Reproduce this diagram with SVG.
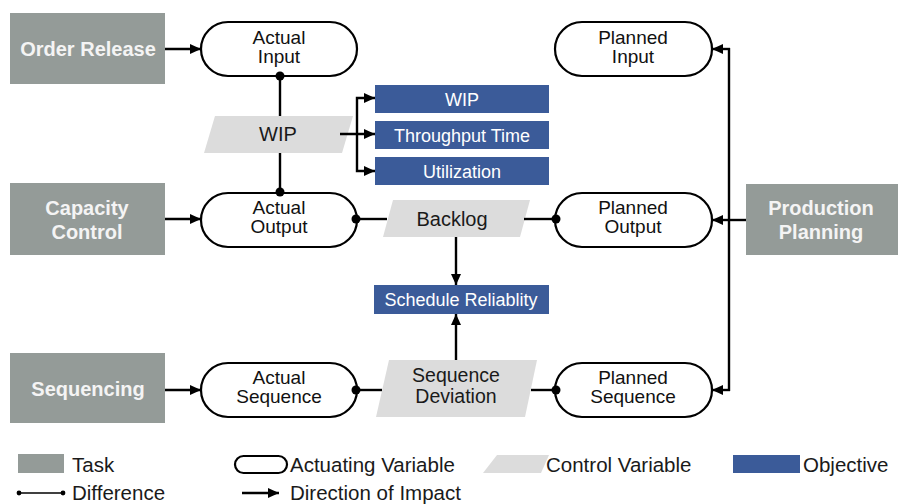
<svg xmlns="http://www.w3.org/2000/svg" width="898" height="504" viewBox="0 0 898 504">
<defs>
<marker id="arr" markerUnits="userSpaceOnUse" markerWidth="12" markerHeight="10" refX="11" refY="5" orient="auto">
<path d="M0,0 L11,5 L0,10 Z" fill="#000"/>
</marker>
<style>
.task{fill:#949b98}
.tt{font-family:"Liberation Sans",Arial,sans-serif;font-weight:bold;font-size:20px;fill:#f4f4f4;text-anchor:middle}
.pill{fill:#fff;stroke:#000;stroke-width:2.2}
.pt{font-family:"Liberation Sans",Arial,sans-serif;font-size:19px;fill:#111;text-anchor:middle}
.ctl{fill:#dcdcdc}
.ct{font-family:"Liberation Sans",Arial,sans-serif;font-size:20px;fill:#1a1a1a;text-anchor:middle}
.ct2{font-family:"Liberation Sans",Arial,sans-serif;font-size:19.5px;fill:#1a1a1a;text-anchor:middle}
.obj{fill:#3b5b99}
.ot{font-family:"Liberation Sans",Arial,sans-serif;font-size:18px;fill:#fff;text-anchor:middle}
.ln{stroke:#000;stroke-width:2.4;fill:none}
.ar{stroke:#000;stroke-width:2.4;fill:none;marker-end:url(#arr)}
.dot{fill:#000}
.lg{font-family:"Liberation Sans",Arial,sans-serif;font-size:20.5px;fill:#1a1a1a}
</style>
</defs>
<rect width="898" height="504" fill="#fff"/>

<!-- Tasks -->
<g id="order-release"><rect class="task" x="10" y="13" width="155" height="71"/><text class="tt" x="88" y="56">Order Release</text></g>
<g id="capacity-control"><rect class="task" x="10" y="183" width="155" height="72"/><text class="tt" x="87" y="215">Capacity</text><text class="tt" x="87" y="239">Control</text></g>
<g id="sequencing"><rect class="task" x="10" y="353" width="155" height="70"/><text class="tt" x="88" y="396">Sequencing</text></g>
<g id="production-planning"><rect class="task" x="746" y="184" width="152" height="71"/><text class="tt" x="821" y="215">Production</text><text class="tt" x="821" y="239">Planning</text></g>

<!-- Actuating variables -->
<g id="actual-input"><rect class="pill" x="201" y="22" width="156" height="54" rx="27"/><text class="pt" x="279" y="44">Actual</text><text class="pt" x="279" y="63">Input</text></g>
<g id="actual-output"><rect class="pill" x="201" y="193" width="156" height="54" rx="27"/><text class="pt" x="279" y="214">Actual</text><text class="pt" x="279" y="233">Output</text></g>
<g id="actual-sequence"><rect class="pill" x="201" y="363" width="156" height="54" rx="27"/><text class="pt" x="279" y="384">Actual</text><text class="pt" x="279" y="403">Sequence</text></g>
<g id="planned-input"><rect class="pill" x="555" y="22" width="157" height="54" rx="27"/><text class="pt" x="633" y="44">Planned</text><text class="pt" x="633" y="63">Input</text></g>
<g id="planned-output"><rect class="pill" x="555" y="193" width="157" height="54" rx="27"/><text class="pt" x="633" y="214">Planned</text><text class="pt" x="633" y="233">Output</text></g>
<g id="planned-sequence"><rect class="pill" x="555" y="363" width="157" height="54" rx="27"/><text class="pt" x="633" y="384">Planned</text><text class="pt" x="633" y="403">Sequence</text></g>

<!-- Control variables -->
<g id="wip-control"><polygon class="ctl" points="215,116 353,116 342,153 204,153"/><text class="ct" x="278" y="141">WIP</text></g>
<g id="backlog"><polygon class="ctl" points="393,200 530,200 520,237 383,237"/><text class="ct" x="452" y="226">Backlog</text></g>
<g id="sequence-deviation"><polygon class="ctl" points="389,360 537,360 525,417 376,417"/><text class="ct2" x="456" y="382">Sequence</text><text class="ct2" x="456" y="403">Deviation</text></g>

<!-- Objectives -->
<g id="obj-wip"><rect class="obj" x="375" y="85" width="174" height="28"/><text class="ot" x="462" y="105.5">WIP</text></g>
<g id="obj-throughput"><rect class="obj" x="375" y="121" width="174" height="28"/><text class="ot" x="462" y="141.5">Throughput Time</text></g>
<g id="obj-utilization"><rect class="obj" x="375" y="157" width="174" height="28"/><text class="ot" x="462" y="177.5">Utilization</text></g>
<g id="obj-schedule"><rect class="obj" x="374" y="285" width="175" height="29"/><text class="ot" x="461" y="306">Schedule Reliablity</text></g>

<!-- Connectors -->
<g id="connectors">
<line class="ar" x1="165" y1="49" x2="201" y2="49"/>
<line class="ar" x1="165" y1="219" x2="201" y2="219"/>
<line class="ar" x1="165" y1="390" x2="201" y2="390"/>

<line class="ln" x1="280" y1="76" x2="280" y2="116"/>
<line class="ln" x1="280" y1="153" x2="280" y2="193"/>
<circle class="dot" cx="280" cy="76" r="4.5"/>
<circle class="dot" cx="280" cy="192" r="4.5"/>

<line class="ar" x1="340" y1="134" x2="375" y2="134"/>
<polyline class="ar" points="357,134 357,98 375,98"/>
<polyline class="ar" points="357,134 357,171 375,171"/>

<line class="ln" x1="357" y1="219" x2="387" y2="219"/>
<circle class="dot" cx="356" cy="219" r="4.5"/>
<line class="ln" x1="524" y1="219" x2="555" y2="219"/>
<circle class="dot" cx="556" cy="219" r="4.5"/>

<line class="ar" x1="456" y1="237" x2="456" y2="285"/>
<line class="ar" x1="456" y1="360" x2="456" y2="314"/>

<line class="ln" x1="357" y1="390" x2="382" y2="390"/>
<circle class="dot" cx="356" cy="390" r="4.5"/>
<line class="ln" x1="531" y1="390" x2="555" y2="390"/>
<circle class="dot" cx="556" cy="390" r="4.5"/>

<line class="ln" x1="729" y1="48" x2="729" y2="391"/>
<line class="ln" x1="746" y1="220" x2="729" y2="220"/>
<line class="ar" x1="730" y1="49" x2="712" y2="49"/>
<line class="ar" x1="730" y1="220" x2="712" y2="220"/>
<line class="ar" x1="730" y1="390" x2="712" y2="390"/>
</g>

<!-- Legend -->
<g id="legend">
<rect class="task" x="18" y="454" width="46" height="19"/>
<text class="lg" x="72" y="472">Task</text>
<rect x="235" y="456" width="52" height="17" rx="8.5" fill="#fff" stroke="#000" stroke-width="2.2"/>
<text class="lg" x="290" y="472">Actuating Variable</text>
<polygon class="ctl" points="497,455 549,455 541,473 483,473"/>
<text class="lg" x="546" y="472">Control Variable</text>
<rect class="obj" x="733" y="455" width="67" height="18"/>
<text class="lg" x="803" y="472">Objective</text>
<line x1="19" y1="493" x2="63" y2="493" stroke="#000" stroke-width="1.3"/>
<circle class="dot" cx="19" cy="493" r="2.4"/>
<circle class="dot" cx="63" cy="493" r="2.4"/>
<text class="lg" x="72" y="500">Difference</text>
<line class="ar" x1="242" y1="493" x2="279" y2="493"/>
<text class="lg" x="290" y="500">Direction of Impact</text>
</g>
</svg>
